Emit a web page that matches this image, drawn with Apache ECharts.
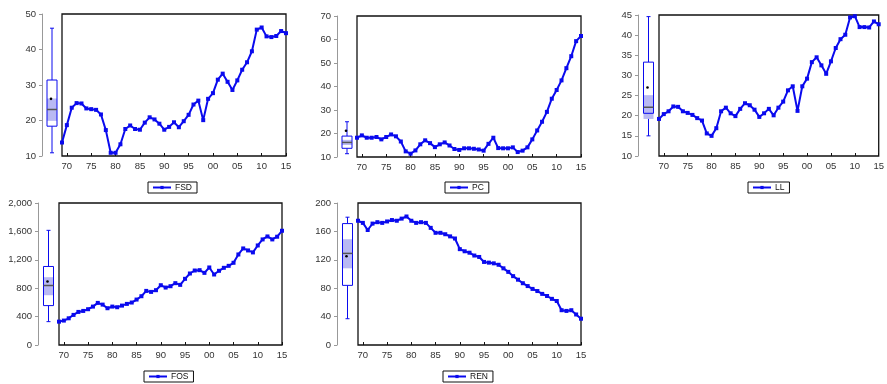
<!DOCTYPE html>
<html>
<head>
<meta charset="utf-8">
<title>FSD PC LL FOS REN</title>
<script src="https://cdn.jsdelivr.net/npm/echarts@6/dist/echarts.min.js"></script>
<style>
  html, body { margin: 0; padding: 0; background: #fff; }
  #chart { width: 887px; height: 384px; }
</style>
</head>
<body>
<div id="chart"></div>
<script>
// years 1969 - 2015
const years = []
for (let y = 1969; y <= 2015; y++) years.push(y)

const fsd = [13.8, 18.7, 23.6, 24.9, 24.8, 23.4, 23.2, 23.0, 21.7, 17.3,
  10.9, 10.9, 13.3, 17.6, 18.6, 17.6, 17.4, 19.4, 20.9, 20.3,
  19.1, 17.4, 18.2, 19.5, 18.1, 19.8, 21.6, 24.5, 25.6, 20.1,
  26.1, 27.7, 31.5, 33.2, 30.9, 28.6, 31.3, 34.3, 36.4, 39.5,
  45.6, 46.2, 43.7, 43.5, 43.8, 45.2, 44.6]

const pc = [18.2, 19.2, 18.2, 18.2, 18.5, 17.5, 18.5, 19.6, 18.8, 16.6,
  12.4, 11.4, 12.8, 15.4, 17.1, 15.9, 14.2, 15.4, 16.2, 14.9,
  13.4, 13.0, 13.7, 13.7, 13.5, 13.2, 12.7, 15.6, 18.2, 13.8,
  13.7, 13.7, 14.1, 12.1, 12.7, 14.1, 17.5, 21.3, 25.0, 29.2,
  34.8, 38.5, 42.6, 47.8, 52.9, 59.3, 61.5]

const ll = [19.2, 20.4, 21.1, 22.3, 22.2, 21.1, 20.7, 20.2, 19.4, 18.8,
  15.6, 15.0, 16.9, 21.1, 22.0, 20.6, 19.9, 21.7, 23.1, 22.6,
  21.5, 19.7, 20.6, 21.7, 20.1, 22.0, 23.5, 26.3, 27.3, 21.2,
  27.3, 29.2, 33.3, 34.5, 32.5, 30.4, 33.5, 36.8, 39.0, 40.1,
  44.4, 44.7, 42.0, 42.0, 41.9, 43.4, 42.7]

const fos = [329, 344, 376, 424, 466, 480, 504, 541, 593, 569,
  518, 541, 532, 555, 579, 598, 640, 687, 762, 748,
  772, 842, 809, 828, 871, 847, 932, 1007, 1049, 1054,
  1016, 1092, 993, 1045, 1087, 1115, 1158, 1275, 1360, 1332,
  1304, 1402, 1487, 1529, 1487, 1525, 1609]

const ren = [175, 172, 162, 171, 173, 172, 174, 176, 175, 178,
  181, 175, 172, 173, 172, 165, 158, 158, 156, 153,
  150, 135, 132, 130, 126, 124, 117, 116, 115, 113,
  108, 103, 97, 92, 87, 83, 79, 76, 72, 69,
  65, 62, 49, 48, 49, 43, 37]

// box stats: min, q1, median, q3, max, mean, median band low, median band high
const fsdBox = [10.9, 18.4, 23.1, 31.4, 46.0, 26.1, 19.9, 26.2]
const pcBox = [11.4, 13.7, 16.2, 18.9, 25.0, 21.2, 15.1, 17.3]
const llBox = [15.0, 20.6, 22.1, 33.3, 44.6, 27.0, 19.2, 25.1]
const fosBox = [329, 555, 838, 1106, 1615, 894, 701, 955]
const renBox = [37, 84, 129, 171, 180, 125, 108, 149]

const blue = '#0a0aee'

// panel layout (px)
const panels = [
  { name: 'FSD', data: fsd, box: fsdBox, min: 10, max: 50, step: 10, axisX: 42, left: 62, top: 14, w: 224, h: 142, legend: [148, 182] },
  { name: 'PC', data: pc, box: pcBox, min: 10, max: 70, step: 10, axisX: 337, left: 357, top: 16, w: 224, h: 141, legend: [445, 182] },
  { name: 'LL', data: ll, box: llBox, min: 10, max: 45, step: 5, axisX: 638, left: 659, top: 15, w: 223, h: 141, legend: [748, 182] },
  { name: 'FOS', data: fos, box: fosBox, min: 0, max: 2000, step: 400, axisX: 38, left: 59, top: 203, w: 223, h: 142, legend: [144, 371] },
  { name: 'REN', data: ren, box: renBox, min: 0, max: 200, step: 40, axisX: 337, left: 358, top: 203, w: 223, h: 142, legend: [443, 371] }
]

function boxItem(params, api) {
  const v = i => api.value(i)
  const x = api.coord([0, v(3)])[0]
  const p = val => api.coord([0, val])[1]
  const hw = 5
  const st = { stroke: blue, lineWidth: 1 }
  const yQ1 = p(v(2)), yQ3 = p(v(4))
  return {
    type: 'group',
    children: [
      { type: 'line', shape: { x1: x, y1: p(v(5)), x2: x, y2: yQ3 }, style: st },
      { type: 'line', shape: { x1: x, y1: yQ1, x2: x, y2: p(v(1)) }, style: st },
      { type: 'line', shape: { x1: x - 2, y1: p(v(5)), x2: x + 2, y2: p(v(5)) }, style: st },
      { type: 'line', shape: { x1: x - 2, y1: p(v(1)), x2: x + 2, y2: p(v(1)) }, style: st },
      { type: 'rect', shape: { x: x - hw, y: yQ3, width: hw * 2, height: yQ1 - yQ3 }, style: { fill: '#fff' } },
      { type: 'rect', shape: { x: x - hw, y: p(v(8)), width: hw * 2, height: p(v(7)) - p(v(8)) }, style: { fill: '#b9b9f3' } },
      { type: 'rect', shape: { x: x - hw, y: yQ3, width: hw * 2, height: yQ1 - yQ3 }, style: { fill: 'none', stroke: blue, lineWidth: 1 } },
      { type: 'line', shape: { x1: x - hw, y1: p(v(3)), x2: x + hw, y2: p(v(3)) }, style: { stroke: '#555', lineWidth: 1.5 } },
      { type: 'circle', shape: { cx: x - 1, cy: p(v(6)), r: 1.3 }, style: { fill: '#000' } }
    ]
  }
}

const grid = [], xAxis = [], yAxis = [], series = [], legend = []

panels.forEach((pn, i) => {
  const bi = i * 2, li = i * 2 + 1
  // boxplot column with the visible y axis
  grid.push({ left: pn.axisX, top: pn.top, width: pn.left - pn.axisX, height: pn.h })
  // line plot with frame
  grid.push({ left: pn.left, top: pn.top, width: pn.w, height: pn.h, show: true, borderColor: '#111', borderWidth: 1.3 })

  xAxis.push({ gridIndex: bi, type: 'category', data: ['box'], show: false })
  xAxis.push({
    gridIndex: li, type: 'category', data: years, boundaryGap: false,
    axisLine: { show: false },
    axisTick: { inside: true, length: 3, interval: (idx, val) => val % 5 === 0, lineStyle: { color: '#111' } },
    axisLabel: {
      interval: (idx, val) => val % 5 === 0,
      formatter: val => String(val).slice(2),
      color: '#333', fontSize: 9.5, fontFamily: 'Liberation Sans, Arial', margin: 5
    }
  })

  yAxis.push({
    gridIndex: bi, type: 'value', min: pn.min, max: pn.max, interval: pn.step,
    axisLine: { show: true, lineStyle: { color: '#999', width: 1 } },
    axisTick: { show: true, length: 3, lineStyle: { color: '#999' } },
    splitLine: { show: false },
    axisLabel: {
      color: '#333', fontSize: 9.5, fontFamily: 'Liberation Sans, Arial', margin: 6,
      formatter: val => val.toLocaleString('en-US')
    }
  })
  yAxis.push({ gridIndex: li, type: 'value', min: pn.min, max: pn.max, interval: pn.step, show: false, splitLine: { show: false } })

  series.push({
    type: 'custom', xAxisIndex: bi, yAxisIndex: bi,
    renderItem: boxItem,
    encode: { x: 0, y: [1, 2, 3, 4, 5] },
    data: [[0].concat(pn.box)],
    silent: true
  })
  series.push({
    name: pn.name, type: 'line', xAxisIndex: li, yAxisIndex: li,
    data: pn.data,
    symbol: 'rect', symbolSize: 4, showAllSymbol: true,
    lineStyle: { color: blue, width: 2 },
    itemStyle: { color: blue },
    silent: true
  })

  legend.push({
    data: [pn.name], left: pn.legend[0], top: pn.legend[1],
    orient: 'horizontal',
    borderColor: '#111', borderWidth: 1, borderRadius: 0,
    padding: [1, 5, 1, 4],
    itemWidth: 18, itemHeight: 4, itemGap: 4,
    backgroundColor: '#fff',
    selectedMode: false,
    textStyle: { fontSize: 8.5, color: '#111', fontFamily: 'Liberation Sans, Arial', padding: [0, 0, 0, -1] }
  })
})

const chart = echarts.init(document.getElementById('chart'), null, { renderer: 'canvas' })
chart.setOption({
  animation: false,
  backgroundColor: '#fff',
  grid, xAxis, yAxis, series, legend
})
</script>
</body>
</html>
